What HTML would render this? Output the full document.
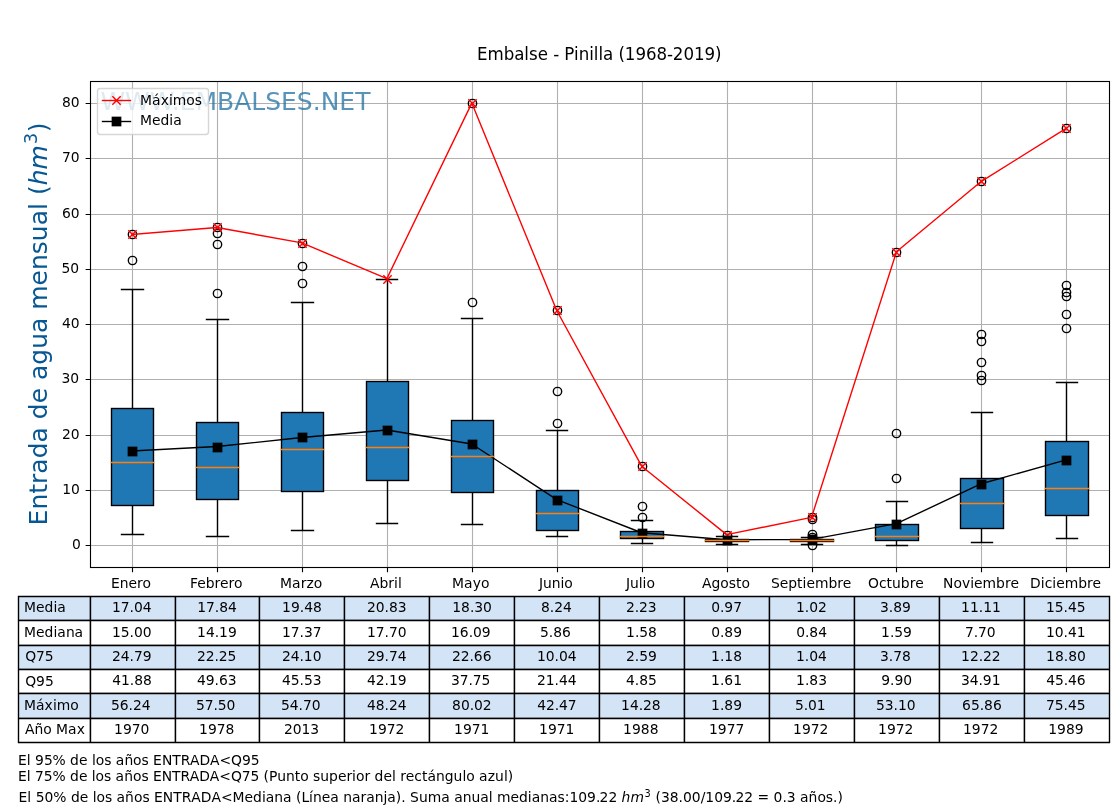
<!DOCTYPE html>
<html lang="es"><head><meta charset="utf-8"><title>Embalse - Pinilla (1968-2019)</title>
<style>html,body{margin:0;padding:0;background:#fff}body{width:1120px;height:810px;overflow:hidden}svg{display:block}</style>
</head><body>
<svg width="1120" height="810" viewBox="0 0 1120 810" font-family='"DejaVu Sans","Liberation Sans",sans-serif' font-size="13.889px" fill="#000">
<rect width="1120" height="810" fill="#fff"/>
<path d="M132.5 81.5V567.5M217.5 81.5V567.5M302.5 81.5V567.5M387.5 81.5V567.5M472.5 81.5V567.5M557.5 81.5V567.5M642.5 81.5V567.5M727.5 81.5V567.5M812.5 81.5V567.5M896.5 81.5V567.5M981.5 81.5V567.5M1066.5 81.5V567.5M90.5 545.5H1109.5M90.5 490.5H1109.5M90.5 435.5H1109.5M90.5 379.5H1109.5M90.5 324.5H1109.5M90.5 269.5H1109.5M90.5 214.5H1109.5M90.5 158.5H1109.5M90.5 103.5H1109.5" stroke="#b0b0b0" stroke-width="1.11" fill="none"/>
<path d="M132.5 567.5v4.86M217.5 567.5v4.86M302.5 567.5v4.86M387.5 567.5v4.86M472.5 567.5v4.86M557.5 567.5v4.86M642.5 567.5v4.86M727.5 567.5v4.86M812.5 567.5v4.86M896.5 567.5v4.86M981.5 567.5v4.86M1066.5 567.5v4.86M90.5 545.5h-4.86M90.5 490.5h-4.86M90.5 435.5h-4.86M90.5 379.5h-4.86M90.5 324.5h-4.86M90.5 269.5h-4.86M90.5 214.5h-4.86M90.5 158.5h-4.86M90.5 103.5h-4.86" stroke="#000" stroke-width="1.11" fill="none"/>
<path d="M132.5 505.5V534.5M132.5 408.5V289.5M121.5 534.5H143.5M121.5 289.5H143.5" stroke="#000" stroke-width="1.39" stroke-linecap="square" fill="none"/>
<rect x="111.5" y="408.5" width="42.0" height="97.0" fill="#1f77b4" stroke="#000" stroke-width="1.39"/>
<circle cx="132.5" cy="260.5" r="4.17" fill="none" stroke="#000" stroke-width="1.39"/>
<circle cx="132.5" cy="234.5" r="4.17" fill="none" stroke="#000" stroke-width="1.39"/>
<path d="M217.5 499.5V536.5M217.5 422.5V319.5M206.5 536.5H228.5M206.5 319.5H228.5" stroke="#000" stroke-width="1.39" stroke-linecap="square" fill="none"/>
<rect x="196.5" y="422.5" width="42.0" height="77.0" fill="#1f77b4" stroke="#000" stroke-width="1.39"/>
<circle cx="217.5" cy="293.5" r="4.17" fill="none" stroke="#000" stroke-width="1.39"/>
<circle cx="217.5" cy="244.5" r="4.17" fill="none" stroke="#000" stroke-width="1.39"/>
<circle cx="217.5" cy="233.5" r="4.17" fill="none" stroke="#000" stroke-width="1.39"/>
<circle cx="217.5" cy="227.5" r="4.17" fill="none" stroke="#000" stroke-width="1.39"/>
<path d="M302.5 491.5V530.5M302.5 412.5V302.5M291.5 530.5H313.5M291.5 302.5H313.5" stroke="#000" stroke-width="1.39" stroke-linecap="square" fill="none"/>
<rect x="281.5" y="412.5" width="42.0" height="79.0" fill="#1f77b4" stroke="#000" stroke-width="1.39"/>
<circle cx="302.5" cy="283.5" r="4.17" fill="none" stroke="#000" stroke-width="1.39"/>
<circle cx="302.5" cy="266.5" r="4.17" fill="none" stroke="#000" stroke-width="1.39"/>
<circle cx="302.5" cy="243.5" r="4.17" fill="none" stroke="#000" stroke-width="1.39"/>
<path d="M387.5 480.5V523.5M387.5 381.5V279.5M376.5 523.5H397.5M376.5 279.5H397.5" stroke="#000" stroke-width="1.39" stroke-linecap="square" fill="none"/>
<rect x="366.5" y="381.5" width="42.0" height="99.0" fill="#1f77b4" stroke="#000" stroke-width="1.39"/>
<path d="M472.5 492.5V524.5M472.5 420.5V318.5M461.5 524.5H482.5M461.5 318.5H482.5" stroke="#000" stroke-width="1.39" stroke-linecap="square" fill="none"/>
<rect x="451.5" y="420.5" width="42.0" height="72.0" fill="#1f77b4" stroke="#000" stroke-width="1.39"/>
<circle cx="472.5" cy="302.5" r="4.17" fill="none" stroke="#000" stroke-width="1.39"/>
<circle cx="472.5" cy="103.5" r="4.17" fill="none" stroke="#000" stroke-width="1.39"/>
<path d="M557.5 530.5V536.5M557.5 490.5V430.5M546.5 536.5H567.5M546.5 430.5H567.5" stroke="#000" stroke-width="1.39" stroke-linecap="square" fill="none"/>
<rect x="536.5" y="490.5" width="42.0" height="40.0" fill="#1f77b4" stroke="#000" stroke-width="1.39"/>
<circle cx="557.5" cy="423.5" r="4.17" fill="none" stroke="#000" stroke-width="1.39"/>
<circle cx="557.5" cy="391.5" r="4.17" fill="none" stroke="#000" stroke-width="1.39"/>
<circle cx="557.5" cy="310.5" r="4.17" fill="none" stroke="#000" stroke-width="1.39"/>
<path d="M642.5 538.5V543.5M642.5 531.5V520.5M631.5 543.5H652.5M631.5 520.5H652.5" stroke="#000" stroke-width="1.39" stroke-linecap="square" fill="none"/>
<rect x="620.5" y="531.5" width="43.0" height="7.0" fill="#1f77b4" stroke="#000" stroke-width="1.39"/>
<circle cx="642.5" cy="517.5" r="4.17" fill="none" stroke="#000" stroke-width="1.39"/>
<circle cx="642.5" cy="506.5" r="4.17" fill="none" stroke="#000" stroke-width="1.39"/>
<circle cx="642.5" cy="466.5" r="4.17" fill="none" stroke="#000" stroke-width="1.39"/>
<path d="M727.5 541.5V544.5M727.5 539.5V536.5M716.5 544.5H737.5M716.5 536.5H737.5" stroke="#000" stroke-width="1.39" stroke-linecap="square" fill="none"/>
<rect x="705.5" y="539.5" width="43.0" height="2.0" fill="#1f77b4" stroke="#000" stroke-width="1.39"/>
<circle cx="727.5" cy="535.5" r="4.17" fill="none" stroke="#000" stroke-width="1.39"/>
<path d="M812.5 541.5V544.5M812.5 539.5V537.5M801.5 544.5H822.5M801.5 537.5H822.5" stroke="#000" stroke-width="1.39" stroke-linecap="square" fill="none"/>
<rect x="790.5" y="539.5" width="43.0" height="2.0" fill="#1f77b4" stroke="#000" stroke-width="1.39"/>
<circle cx="812.5" cy="545.5" r="4.17" fill="none" stroke="#000" stroke-width="1.39"/>
<circle cx="812.5" cy="537.5" r="4.17" fill="none" stroke="#000" stroke-width="1.39"/>
<circle cx="812.5" cy="534.5" r="4.17" fill="none" stroke="#000" stroke-width="1.39"/>
<circle cx="812.5" cy="519.5" r="4.17" fill="none" stroke="#000" stroke-width="1.39"/>
<circle cx="812.5" cy="517.5" r="4.17" fill="none" stroke="#000" stroke-width="1.39"/>
<path d="M896.5 540.5V545.5M896.5 524.5V501.5M886.5 545.5H907.5M886.5 501.5H907.5" stroke="#000" stroke-width="1.39" stroke-linecap="square" fill="none"/>
<rect x="875.5" y="524.5" width="43.0" height="16.0" fill="#1f77b4" stroke="#000" stroke-width="1.39"/>
<circle cx="896.5" cy="478.5" r="4.17" fill="none" stroke="#000" stroke-width="1.39"/>
<circle cx="896.5" cy="433.5" r="4.17" fill="none" stroke="#000" stroke-width="1.39"/>
<circle cx="896.5" cy="252.5" r="4.17" fill="none" stroke="#000" stroke-width="1.39"/>
<path d="M981.5 528.5V542.5M981.5 478.5V412.5M971.5 542.5H992.5M971.5 412.5H992.5" stroke="#000" stroke-width="1.39" stroke-linecap="square" fill="none"/>
<rect x="960.5" y="478.5" width="43.0" height="50.0" fill="#1f77b4" stroke="#000" stroke-width="1.39"/>
<circle cx="981.5" cy="380.5" r="4.17" fill="none" stroke="#000" stroke-width="1.39"/>
<circle cx="981.5" cy="375.5" r="4.17" fill="none" stroke="#000" stroke-width="1.39"/>
<circle cx="981.5" cy="362.5" r="4.17" fill="none" stroke="#000" stroke-width="1.39"/>
<circle cx="981.5" cy="341.5" r="4.17" fill="none" stroke="#000" stroke-width="1.39"/>
<circle cx="981.5" cy="334.5" r="4.17" fill="none" stroke="#000" stroke-width="1.39"/>
<circle cx="981.5" cy="181.5" r="4.17" fill="none" stroke="#000" stroke-width="1.39"/>
<path d="M1066.5 515.5V538.5M1066.5 441.5V382.5M1056.5 538.5H1077.5M1056.5 382.5H1077.5" stroke="#000" stroke-width="1.39" stroke-linecap="square" fill="none"/>
<rect x="1045.5" y="441.5" width="43.0" height="74.0" fill="#1f77b4" stroke="#000" stroke-width="1.39"/>
<circle cx="1066.5" cy="328.5" r="4.17" fill="none" stroke="#000" stroke-width="1.39"/>
<circle cx="1066.5" cy="314.5" r="4.17" fill="none" stroke="#000" stroke-width="1.39"/>
<circle cx="1066.5" cy="296.5" r="4.17" fill="none" stroke="#000" stroke-width="1.39"/>
<circle cx="1066.5" cy="292.5" r="4.17" fill="none" stroke="#000" stroke-width="1.39"/>
<circle cx="1066.5" cy="285.5" r="4.17" fill="none" stroke="#000" stroke-width="1.39"/>
<circle cx="1066.5" cy="128.5" r="4.17" fill="none" stroke="#000" stroke-width="1.39"/>
<polyline points="132.07,234.44 217.00,227.48 301.93,242.94 386.87,278.62 471.80,103.09 556.73,310.50 641.67,466.20 726.60,534.64 811.53,517.40 896.47,251.78 981.40,181.30 1066.33,128.33" fill="none" stroke="#f00" stroke-width="1.39" stroke-linejoin="round" stroke-linecap="square"/>
<path d="M128.33 230.33l8.34 8.34M128.33 238.67l8.34 -8.34M213.33 223.33l8.34 8.34M213.33 231.67l8.34 -8.34M298.33 239.33l8.34 8.34M298.33 247.67l8.34 -8.34M383.33 275.33l8.34 8.34M383.33 283.67l8.34 -8.34M468.33 99.33l8.34 8.34M468.33 107.67l8.34 -8.34M553.33 306.33l8.34 8.34M553.33 314.67l8.34 -8.34M638.33 462.33l8.34 8.34M638.33 470.67l8.34 -8.34M723.33 531.33l8.34 8.34M723.33 539.67l8.34 -8.34M808.33 513.33l8.34 8.34M808.33 521.67l8.34 -8.34M892.33 248.33l8.34 8.34M892.33 256.67l8.34 -8.34M977.33 177.33l8.34 8.34M977.33 185.67l8.34 -8.34M1062.33 124.33l8.34 8.34M1062.33 132.67l8.34 -8.34" stroke="#f00" stroke-width="1.39" fill="none"/>
<polyline points="132.07,450.96 217.00,446.54 301.93,437.48 386.87,430.02 471.80,444.00 556.73,499.56 641.67,532.76 726.60,539.72 811.53,539.44 896.47,523.59 981.40,483.71 1066.33,459.74" fill="none" stroke="#000" stroke-width="1.39" stroke-linejoin="round" stroke-linecap="square"/>
<rect x="127.64" y="446.64" width="9.72" height="9.72" fill="#000"/>
<rect x="212.64" y="442.64" width="9.72" height="9.72" fill="#000"/>
<rect x="297.64" y="432.64" width="9.72" height="9.72" fill="#000"/>
<rect x="382.64" y="425.64" width="9.72" height="9.72" fill="#000"/>
<rect x="467.64" y="439.64" width="9.72" height="9.72" fill="#000"/>
<rect x="552.64" y="495.64" width="9.72" height="9.72" fill="#000"/>
<rect x="637.64" y="528.64" width="9.72" height="9.72" fill="#000"/>
<rect x="722.64" y="535.64" width="9.72" height="9.72" fill="#000"/>
<rect x="807.64" y="534.64" width="9.72" height="9.72" fill="#000"/>
<rect x="891.64" y="519.64" width="9.72" height="9.72" fill="#000"/>
<rect x="976.64" y="479.64" width="9.72" height="9.72" fill="#000"/>
<rect x="1061.64" y="455.64" width="9.72" height="9.72" fill="#000"/>
<path d="M111.5 462.5H153.5M196.5 467.5H238.5M281.5 449.5H323.5M366.5 447.5H408.5M451.5 456.5H493.5M536.5 513.5H578.5M620.5 536.5H663.5M705.5 540.5H748.5M790.5 540.5H833.5M875.5 536.5H918.5M960.5 503.5H1003.5M1045.5 488.5H1088.5" stroke="#ff7f0e" stroke-width="1.39" stroke-linecap="square" fill="none"/>
<rect x="90.5" y="81.5" width="1019.0" height="486.0" fill="none" stroke="#000" stroke-width="1.11"/>
<text id="t0" x="100.40" y="110.0" font-size="25px" fill="#2070a3" fill-opacity="0.75">WWW.EMBALSES.NET</text>
<rect x="97.5" y="88.5" width="111" height="46" rx="2.8" ry="2.8" fill="#fff" fill-opacity="0.8" stroke="#ccc" stroke-opacity="0.8" stroke-width="1.39"/>
<path d="M102.5 100.5h28" stroke="#f00" stroke-width="1.39" stroke-linecap="square"/>
<path d="M112.33 96.33l8.34 8.34M112.33 104.67l8.34 -8.34" stroke="#f00" stroke-width="1.39"/>
<path d="M102.5 121.5h28" stroke="#000" stroke-width="1.39" stroke-linecap="square"/>
<rect x="111.64" y="116.64" width="9.72" height="9.72" fill="#000"/>
<text id="t1" x="140.10 152.10 160.72 168.97 172.85 186.35 194.85" y="105.0">Máximos</text>
<text id="t2" x="139.90 151.90 160.40 169.28 173.15" y="125.0">Media</text>
<text id="t3" transform="translate(599.30 60.0) scale(1 1.07)" font-size="16.667px"><tspan x="-122.25 -111.88 -95.62 -85.12 -75.00 -70.38 -61.62 -51.38 -46.12 -40.25 -35.00 -25.25 -20.62 -10.12 -5.50 -0.88 3.75 13.88 19.12 25.50 36.12 46.62 57.12 67.62 73.50 84.12 94.62 105.25 115.75">Embalse - Pinilla (1968-2019)</tspan></text>
<text id="t4" transform="translate(46.9 323.40) rotate(-90)" font-size="25px" fill="#065793"><tspan x="-202.00 -186.20 -170.36 -160.56 -150.28 -134.96 -119.09 -103.77 -95.82 -79.95 -64.57 -56.63 -41.31 -25.44 -9.59 5.73 13.67 38.03 53.41 69.25 82.28 98.12 113.44 120.39 128.33" y="0.00">Entrada de agua mensual (</tspan><tspan x="138.09 153.93" y="0.00" font-style="italic">hm</tspan><tspan x="179.45" y="-9.57" font-size="17.50px">3</tspan><tspan x="191.27" y="0.00">)</tspan></text>
<text id="t5" x="72.05" y="549.0">0</text>
<text id="t6" x="62.17 71.05" y="494.0">10</text>
<text id="t7" x="61.90 70.65" y="439.0">20</text>
<text id="t8" x="61.50 70.25" y="383.0">30</text>
<text id="t9" x="61.90 70.65" y="328.0">40</text>
<text id="t10" x="61.50 70.25" y="273.0">50</text>
<text id="t11" x="61.98 70.85" y="218.0">60</text>
<text id="t12" x="61.90 70.65" y="162.0">70</text>
<text id="t13" x="61.98 70.85" y="107.0">80</text>
<text id="t14" x="111.07 119.82 128.57 137.07 142.57" y="588.0">Enero</text>
<text id="t15" x="189.89 197.14 205.64 214.51 220.01 228.51 234.01" y="588.0">Febrero</text>
<text id="t16" x="280.01 292.01 300.63 306.38 313.76" y="588.0">Marzo</text>
<text id="t17" x="369.93 379.43 388.30 394.05 397.93" y="588.0">Abril</text>
<text id="t18" x="452.11 464.11 472.74 480.99" y="588.0">Mayo</text>
<text id="t19" x="539.00 543.00 551.75 560.50 564.37" y="588.0">Junio</text>
<text id="t20" x="625.97 629.97 638.72 642.59 646.47" y="588.0">Julio</text>
<text id="t21" x="702.00 711.50 720.37 728.87 736.00 741.50" y="588.0">Agosto</text>
<text id="t22" x="770.95 779.70 788.20 797.07 802.57 806.45 814.95 828.45 837.32 842.82" y="588.0">Septiembre</text>
<text id="t23" x="868.05 878.93 886.55 892.05 900.80 909.68 915.18" y="588.0">Octubre</text>
<text id="t24" x="943.06 953.44 961.94 970.19 974.06 982.56 996.06 1004.94 1010.44" y="588.0">Noviembre</text>
<text id="t25" x="1030.03 1040.78 1044.66 1052.28 1056.16 1064.66 1078.16 1087.03 1092.53" y="588.0">Diciembre</text>
<rect x="18.5" y="596.5" width="1091.0" height="24.0" fill="#d4e4f7"/>
<rect x="18.5" y="645.5" width="1091.0" height="24.0" fill="#d4e4f7"/>
<rect x="18.5" y="693.5" width="1091.0" height="25.0" fill="#d4e4f7"/>
<path d="M18.5 596.5H1109.5M18.5 620.5H1109.5M18.5 645.5H1109.5M18.5 669.5H1109.5M18.5 693.5H1109.5M18.5 718.5H1109.5M18.5 742.5H1109.5M18.5 596.5V742.5M90.5 596.5V742.5M175.5 596.5V742.5M259.5 596.5V742.5M344.5 596.5V742.5M429.5 596.5V742.5M514.5 596.5V742.5M599.5 596.5V742.5M684.5 596.5V742.5M769.5 596.5V742.5M854.5 596.5V742.5M939.5 596.5V742.5M1024.5 596.5V742.5M1109.5 596.5V742.5" stroke="#000" stroke-width="1.39" stroke-linecap="square" fill="none"/>
<path d="M89.5 597.2V741.8M174.5 597.2V741.8M258.5 597.2V741.8M343.5 597.2V741.8M428.5 597.2V741.8M513.5 597.2V741.8M598.5 597.2V741.8M683.5 597.2V741.8M768.5 597.2V741.8M853.5 597.2V741.8M938.5 597.2V741.8M1023.5 597.2V741.8M19.2 619.5H1108.8M19.2 644.5H1108.8M19.2 668.5H1108.8M19.2 692.5H1108.8M19.2 717.5H1108.8" stroke="#000" stroke-opacity="0.2" stroke-width="1" fill="none"/>
<text id="t26" x="24.00 36.00 44.50 53.38 57.25" y="612.0">Media</text>
<text id="t27" x="111.92 120.79 129.54 133.92 142.67" y="612.0">17.04</text>
<text id="t28" x="197.19 206.06 214.81 219.19 228.06" y="612.0">17.84</text>
<text id="t29" x="282.06 290.93 299.81 304.18 312.93" y="612.0">19.48</text>
<text id="t30" x="367.12 375.87 384.62 388.99 397.87" y="612.0">20.83</text>
<text id="t31" x="452.19 461.06 469.94 474.31 483.06" y="612.0">18.30</text>
<text id="t32" x="540.96 549.83 554.21 562.96" y="612.0">8.24</text>
<text id="t33" x="625.95 634.70 639.08 647.83" y="612.0">2.23</text>
<text id="t34" x="711.22 719.97 724.35 733.22" y="612.0">0.97</text>
<text id="t35" x="795.96 804.83 809.21 817.96" y="612.0">1.02</text>
<text id="t36" x="880.03 888.78 893.15 902.03" y="612.0">3.89</text>
<text id="t37" x="961.06 969.94 978.81 983.19 992.06" y="612.0">11.11</text>
<text id="t38" x="1045.98 1054.86 1063.61 1067.98 1076.73" y="612.0">15.45</text>
<text id="t39" x="24.00 36.00 44.50 53.38 57.25 65.88 74.62" y="637.0">Mediana</text>
<text id="t40" x="111.92 120.79 129.54 133.92 142.67" y="637.0">15.00</text>
<text id="t41" x="197.12 206.00 214.75 219.12 228.00" y="637.0">14.19</text>
<text id="t42" x="281.98 290.86 299.61 303.98 312.73" y="637.0">17.37</text>
<text id="t43" x="366.92 375.79 384.54 388.92 397.67" y="637.0">17.70</text>
<text id="t44" x="450.92 459.80 468.67 473.05 481.80" y="637.0">16.09</text>
<text id="t45" x="540.10 548.85 553.22 562.10" y="637.0">5.86</text>
<text id="t46" x="626.03 634.90 639.28 648.03" y="637.0">1.58</text>
<text id="t47" x="711.16 719.91 724.29 733.16" y="637.0">0.89</text>
<text id="t48" x="796.16 804.91 809.28 818.16" y="637.0">0.84</text>
<text id="t49" x="881.03 889.90 894.28 903.03" y="637.0">1.59</text>
<text id="t50" x="964.89 973.64 978.01 986.76" y="637.0">7.70</text>
<text id="t51" x="1045.92 1054.80 1063.55 1067.92 1076.67" y="637.0">10.41</text>
<text id="t52" x="25.20 36.08 44.83" y="661.0">Q75</text>
<text id="t53" x="112.12 120.87 129.62 133.99 142.74" y="661.0">24.79</text>
<text id="t54" x="196.91 205.66 214.41 218.79 227.54" y="661.0">22.25</text>
<text id="t55" x="281.98 290.73 299.48 303.86 312.73" y="661.0">24.10</text>
<text id="t56" x="366.92 375.67 384.54 388.92 397.67" y="661.0">29.74</text>
<text id="t57" x="451.99 460.74 469.49 473.86 482.74" y="661.0">22.66</text>
<text id="t58" x="536.98 545.86 554.61 558.98 567.73" y="661.0">10.04</text>
<text id="t59" x="626.09 634.84 639.22 647.97" y="661.0">2.59</text>
<text id="t60" x="711.10 719.97 724.35 733.22" y="661.0">1.18</text>
<text id="t61" x="795.96 804.83 809.21 817.96" y="661.0">1.04</text>
<text id="t62" x="880.09 888.84 893.22 901.97" y="661.0">3.78</text>
<text id="t63" x="961.05 969.92 978.67 983.05 991.80" y="661.0">12.22</text>
<text id="t64" x="1046.06 1054.93 1063.81 1068.18 1077.06" y="661.0">18.80</text>
<text id="t65" x="25.20 36.08 44.95" y="686.0">Q95</text>
<text id="t66" x="112.19 120.94 129.82 134.19 143.07" y="685.0">41.88</text>
<text id="t67" x="196.99 205.74 214.61 218.99 227.86" y="685.0">49.63</text>
<text id="t68" x="282.05 290.80 299.55 303.92 312.67" y="685.0">45.53</text>
<text id="t69" x="367.05 375.80 384.55 388.93 397.80" y="685.0">42.19</text>
<text id="t70" x="450.91 459.66 468.41 472.79 481.54" y="685.0">37.75</text>
<text id="t71" x="536.98 545.73 554.61 558.98 567.73" y="685.0">21.44</text>
<text id="t72" x="626.09 634.84 639.22 648.09" y="685.0">4.85</text>
<text id="t73" x="711.10 719.97 724.35 733.22" y="685.0">1.61</text>
<text id="t74" x="796.10 804.97 809.35 818.22" y="685.0">1.83</text>
<text id="t75" x="881.23 890.10 894.48 903.35" y="685.0">9.90</text>
<text id="t76" x="960.99 969.74 978.49 982.86 991.74" y="685.0">34.91</text>
<text id="t77" x="1046.18 1054.93 1063.68 1068.06 1076.81" y="685.0">45.46</text>
<text id="t78" x="24.00 36.00 44.62 52.88 56.75 70.25" y="710.0">Máximo</text>
<text id="t79" x="110.92 119.67 128.54 132.92 141.67" y="710.0">56.24</text>
<text id="t80" x="195.91 204.66 213.41 217.79 226.54" y="710.0">57.50</text>
<text id="t81" x="281.05 289.80 298.55 302.92 311.67" y="710.0">54.70</text>
<text id="t82" x="366.92 375.67 384.54 388.92 397.67" y="710.0">48.24</text>
<text id="t83" x="452.05 460.92 469.67 474.05 482.80" y="710.0">80.02</text>
<text id="t84" x="537.25 546.00 554.75 559.12 567.87" y="710.0">42.47</text>
<text id="t85" x="621.05 629.93 638.68 643.05 651.80" y="710.0">14.28</text>
<text id="t86" x="711.10 719.97 724.35 733.22" y="710.0">1.89</text>
<text id="t87" x="794.96 803.71 808.08 816.83" y="710.0">5.01</text>
<text id="t88" x="876.12 884.87 893.62 897.99 906.87" y="710.0">53.10</text>
<text id="t89" x="962.12 971.00 979.75 984.12 993.00" y="710.0">65.86</text>
<text id="t90" x="1046.05 1054.80 1063.55 1067.92 1076.67" y="710.0">75.45</text>
<text id="t91" x="25.00 34.50 43.25 51.75 56.12 68.12 76.75" y="734.0">Año Max</text>
<text id="t92" x="114.04 122.92 131.79 140.54" y="734.0">1970</text>
<text id="t93" x="199.11 207.99 216.86 225.61" y="734.0">1978</text>
<text id="t94" x="283.97 292.72 301.47 310.35" y="734.0">2013</text>
<text id="t95" x="369.04 377.92 386.79 395.54" y="734.0">1972</text>
<text id="t96" x="454.11 462.99 471.86 480.61" y="734.0">1971</text>
<text id="t97" x="539.05 547.92 556.80 565.55" y="734.0">1971</text>
<text id="t98" x="623.12 631.99 640.87 649.74" y="734.0">1988</text>
<text id="t99" x="708.97 717.85 726.72 735.47" y="734.0">1977</text>
<text id="t100" x="793.11 801.98 810.86 819.61" y="734.0">1972</text>
<text id="t101" x="878.04 886.92 895.79 904.54" y="734.0">1972</text>
<text id="t102" x="962.97 971.85 980.72 989.47" y="734.0">1972</text>
<text id="t103" x="1048.18 1057.06 1065.93 1074.81" y="734.0">1989</text>
<text id="t104" y="765.0"><tspan x="18.00 26.75 30.62 35.00 43.88 52.62 65.75 70.12 79.00 87.50 91.88 95.75 104.25 111.38 115.75 124.38 133.12 141.62 148.75 153.12 161.88 172.25 180.75 189.88 199.38 209.88 219.38 231.00 241.88 250.75">El 95% de los años ENTRADA&lt;Q95</tspan></text>
<text id="t105" y="781.0"><tspan x="18.00 26.75 30.62 35.00 43.75 52.50 65.62 70.00 78.88 87.38 91.75 95.62 104.12 111.25 115.62 124.25 133.00 141.50 148.62 153.00 161.75 172.12 180.62 189.75 199.25 209.75 219.25 230.88 241.75 250.50 259.25 263.62 269.12 277.25 286.00 294.75 300.25 308.75 313.12 320.25 329.00 337.88 346.38 352.12 356.00 364.50 370.25 374.62 383.50 392.00 395.88 400.25 405.75 414.25 421.88 427.38 436.00 444.75 453.62 462.38 466.25 474.75 479.12 487.75 495.12 503.88 507.75">El 75% de los años ENTRADA&lt;Q75 (Punto superior del rectángulo azul)</tspan></text>
<text id="t106" y="802.0"><tspan x="18.60 27.37 31.22 35.63 44.46 53.29 66.47 70.88 79.69 88.23 92.64 96.49 104.98 112.21 116.62 125.12 133.92 142.40 149.63 154.04 162.81 173.19 181.67 191.31 200.80 211.48 220.97 232.60 244.57 253.11 261.91 265.77 274.27 283.07 291.57 295.98 301.39 309.12 312.98 321.77 330.31 338.81 343.22 352.01 360.52 366.22 374.72 383.52 387.37 395.87 401.29 405.70 410.11 418.92 427.71 441.23 449.73 454.14 462.64 471.43 480.23 488.73 492.59 497.00 510.51 519.05 527.86 531.71 540.21 549.01 557.51 564.74 569.41 578.24 587.07 595.90 599.56 608.38 617.21" y="802.00">El 50% de los años ENTRADA&lt;Mediana (Línea naranja). Suma anual medianas:109.22 </tspan><tspan x="621.62 630.42" y="802.00" font-style="italic">hm</tspan><tspan x="644.58" y="796.64" font-size="9.72px">3</tspan><tspan x="651.15 655.56 660.97 669.80 678.62 683.04 691.86 700.69 705.37 714.19 723.02 731.85 735.51 744.34 753.16 757.57 769.20 773.61 782.44 786.85 795.68 800.09 808.59 817.38 825.87 833.10 837.51" y="802.00"> (38.00/109.22 = 0.3 años.)</tspan></text>
</svg>
</body></html>
